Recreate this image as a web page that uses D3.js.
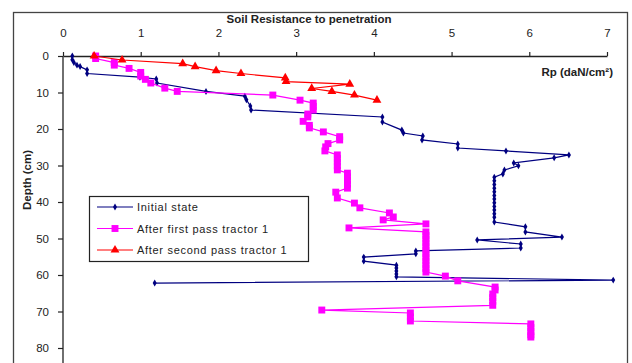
<!DOCTYPE html>
<html><head><meta charset="utf-8">
<script src="https://cdn.jsdelivr.net/npm/d3@7"></script>
<style>html,body{margin:0;padding:0;background:#fff;}svg{display:block;font-family:"Liberation Sans",Arial,sans-serif;}</style>
</head><body><svg id="c" width="632" height="363"></svg>
<script>
const xTicks = [0,1,2,3,4,5,6,7];
const yTicks = [0,10,20,30,40,50,60,70,80];
const seriesNames = ["Initial state","After first pass tractor 1","After second pass tractor 1"];

const initialDepth = [0,1,1.8,2.5,2.9,3.8,4.8,5.8,6.3,7.4,9.7,11,12,13.7,14.8,16.7,18.1,20.3,21.1,21.9,23,24.1,25.2,26,27.1,27.9,29.3,30.1,31.2,32.3,33.2,34.2,35.2,36.2,37.2,38.2,39.2,40.2,41.2,42.2,43.2,44.2,45.5,46.8,48.2,49.6,50.4,51.5,52.6,53.4,54.2,55.1,56.2,57.3,58.1,58.9,59.7,60.5,61.4,62.2];
const initialRp = [0.12,0.12,0.14,0.18,0.22,0.31,0.31,0.99,1.2,1.21,1.84,2.34,2.36,2.41,2.42,4.11,4.11,4.36,4.38,4.63,4.62,5.08,5.08,5.70,6.51,6.32,5.80,5.86,5.68,5.66,5.55,5.55,5.55,5.55,5.55,5.55,5.55,5.55,5.55,5.55,5.55,5.55,5.55,5.95,5.95,6.42,5.33,5.89,5.89,4.54,4.54,3.87,3.87,4.29,4.29,4.29,4.29,4.29,7.08,1.18];

const firstDepth = [0,0.7,1.8,2.5,3.4,4.5,5.5,6.4,7.4,8.8,9.7,10.7,12.1,12.9,13.8,14.8,15.9,16.7,17.9,19,19.7,20.8,22.1,23,24,24.9,26,27.1,28.1,29.1,30.1,31.2,32.1,33.1,34.1,35.1,36.2,37.3,38.9,40.3,41.6,43,44.1,44.9,46,47.1,48.2,49.2,50.2,51.2,52.2,53.2,54.2,55.2,56.2,57.2,58.2,59.2,60.3,61.6,63.3,64.1,65.2,66.2,67.2,68.3,69.6,70.4,71.5,72.6,73.4,74.4,75.4,76.4,77];
const firstRp = [0.42,0.42,0.66,0.66,0.85,1.0,1.0,1.06,1.13,1.31,1.47,2.70,3.05,3.22,3.22,3.22,3.15,3.15,3.09,3.17,3.17,3.35,3.56,3.56,3.41,3.38,3.37,3.53,3.53,3.53,3.53,3.53,3.66,3.66,3.66,3.66,3.66,3.51,3.53,3.75,3.82,4.2,4.25,4.12,4.67,3.68,4.67,4.67,4.67,4.67,4.67,4.67,4.67,4.67,4.67,4.67,4.67,4.67,4.92,5.08,5.56,5.56,5.53,5.53,5.53,5.53,3.33,4.47,4.47,4.47,6.02,6.02,6.02,6.02,6.02];

const secondDepth = [0,1.1,2.1,2.9,4.0,4.8,6.0,7.0,7.7,8.9,9.7,10.7,12.1];
const secondRp = [0.40,0.76,1.54,1.70,1.97,2.29,2.86,2.87,3.69,3.20,3.46,3.75,4.04];

const svg = d3.select("#c");
const x = d3.scaleLinear().domain([0,7]).range([63,607]);
const y = d3.scaleLinear().domain([0,80]).range([56,348]);

// outer border
svg.append("rect").attr("x",13.5).attr("y",12.5).attr("width",614).attr("height",400)
  .attr("fill","none").attr("stroke","#444").attr("stroke-width",1.3);

// axes
const xa = svg.append("g").attr("transform","translate(0,56)")
  .call(d3.axisTop(x).tickValues(xTicks).tickFormat(d3.format("d")).tickSize(4).tickPadding(15).tickSizeOuter(0));
const ya = svg.append("g").attr("transform","translate(63,0)")
  .call(d3.axisLeft(y).tickValues(yTicks).tickFormat(d3.format("d")).tickSize(5).tickPadding(9).tickSizeOuter(0));
ya.select(".domain").attr("d","M0,56V363");
[xa,ya].forEach(g=>{
  g.select(".domain").attr("stroke","#222").attr("stroke-width",1.3);
  g.selectAll(".tick line").attr("stroke","#222").attr("stroke-width",1.2);
  g.selectAll(".tick text").attr("font-family","Liberation Sans, Arial, sans-serif").attr("font-size",11.5).attr("fill","#222");
});

// titles
svg.append("text").attr("x",309).attr("y",23).attr("text-anchor","middle")
  .attr("font-size",11.5).attr("font-weight","bold").attr("fill","#222").text("Soil Resistance to penetration");
svg.append("text").attr("x",613).attr("y",76).attr("text-anchor","end")
  .attr("font-size",11.5).attr("font-weight","bold").attr("fill","#222").text("Rp (daN/cm²)");
svg.append("text").attr("transform","translate(31,180) rotate(-90)").attr("text-anchor","middle")
  .attr("font-size",11.5).attr("font-weight","bold").attr("fill","#222").text("Depth (cm)");

const series = [
  {name:seriesNames[0], d:initialDepth, v:initialRp, color:"#000080", sym:d3.symbolDiamond, size:14},
  {name:seriesNames[1], d:firstDepth, v:firstRp, color:"#FF00FF", sym:d3.symbolSquare, size:48},
  {name:seriesNames[2], d:secondDepth, v:secondRp, color:"#FF0000", sym:d3.symbolTriangle, size:34}
];
const line = d3.line().x(p=>x(p[0])).y(p=>y(p[1]));
series.forEach(s=>{
  const pts = s.v.map((v,i)=>[v,s.d[i]]);
  svg.append("path").attr("d",line(pts)).attr("fill","none").attr("stroke",s.color).attr("stroke-width",1.2);
  svg.append("g").selectAll("path").data(pts).join("path")
    .attr("transform",p=>`translate(${x(p[0])},${y(p[1])})`)
    .attr("d",d3.symbol().type(s.sym).size(s.size)).attr("fill",s.color);
});

// legend
const lg = svg.append("g");
lg.append("rect").attr("x",89.5).attr("y",196.5).attr("width",219).attr("height",65)
  .attr("fill","#fff").attr("stroke","#222").attr("stroke-width",1.2);
series.forEach((s,i)=>{
  const yy = 207 + i*21.5;
  lg.append("line").attr("x1",97).attr("x2",133).attr("y1",yy).attr("y2",yy).attr("stroke",s.color).attr("stroke-width",1.2);
  lg.append("path").attr("transform",`translate(115,${yy})`).attr("d",d3.symbol().type(s.sym).size(s.size)).attr("fill",s.color);
  lg.append("text").attr("x",137).attr("y",yy+4).attr("font-size",11).attr("letter-spacing",0.7).attr("fill","#222").text(s.name);
});
</script></body></html>
